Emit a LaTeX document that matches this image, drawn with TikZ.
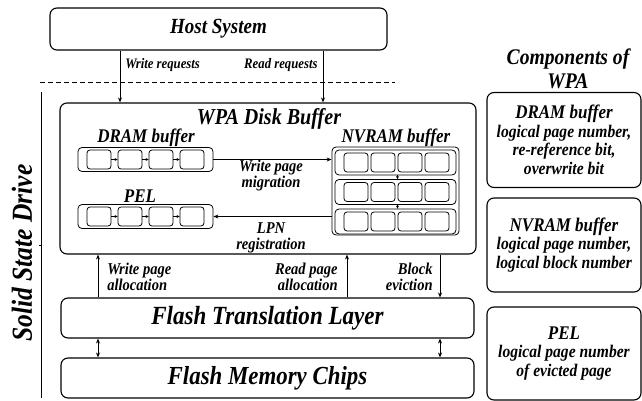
\documentclass[tikz,border=0pt]{standalone}
\usepackage{fontspec}
\setmainfont{Liberation Serif}
\newfontfamily\wpafont[FakeStretch=0.88]{Liberation Serif}
\newcommand\wfont[2]{\wpafont\fontsize{#1}{#2}\selectfont\bfseries\itshape}
\usetikzlibrary{arrows.meta,positioning}

\tikzset{
  bigbox/.style={draw,line width=1.1pt,rounded corners=7pt},
  inbox/.style={draw,line width=0.8pt,rounded corners=4pt},
  cell/.style={draw,line width=0.8pt,rounded corners=3pt,minimum width=24pt,minimum height=19pt,inner sep=0pt},
  lbl/.style={font=\wfont{16.5}{14.5},inner sep=0pt},
  lbltall/.style={font=\wfont{16.5}{16.5},inner sep=0pt},
  ttl/.style={font=\wfont{19.3}{19},inner sep=0pt},
  small/.style={-{Stealth[length=3pt,width=3pt]},line width=0.5pt},
}

\begin{document}
\begin{tikzpicture}[x=1pt,y=-1pt,>={Stealth[length=5pt,width=4pt]},line width=0.8pt]
  \useasboundingbox (0,0) rectangle (642,401);
  % host
  \node[bigbox,minimum width=337pt,minimum height=42pt,font=\wfont{21.6}{22}] (host) at (218.5,29) {Host System};
  \draw[dash pattern=on 5pt off 3pt] (40,82) -- (395,82);
  % disk buffer
  \node[bigbox,minimum width=416pt,minimum height=151pt] (wpa) at (268,178.5) {};
  \node[font=\wfont{22.8}{23},inner sep=0pt] (wpat) at (269,119) {WPA Disk Buffer};
  \coordinate (wr) at (120,0);
  \coordinate (rd) at (323,0);
  \draw[->] (host.south -| wr) -- (wpa.north -| wr);
  \draw[->] (host.south -| rd) -- (wpa.north -| rd);
  \node[font=\wfont{14.5}{14},inner sep=0pt,anchor=west] (wrl) at (125,65) {Write requests};
  \node[font=\wfont{14.5}{14},inner sep=0pt,anchor=east] (rdl) at (318,65) {Read requests};
  % dram buffer + pel
  \node[ttl] (dramt) at (146,138) {DRAM buffer};
  \node[inbox,minimum width=135pt,minimum height=24pt] (dram) at (145.5,159.5) {};
  \node[ttl] (pelt) at (140,196) {PEL};
  \node[inbox,minimum width=135pt,minimum height=24pt] (pel) at (145.5,216.5) {};
  \foreach \i in {1,...,4} {
    \node[cell] (d\i) at (68+31*\i,159.5) {};
    \node[cell] (p\i) at (68+31*\i,216.5) {};
  }
  \foreach \i/\j in {1/2,2/3,3/4} {
    \draw[small] (d\i) -- (d\j);
    \draw[small] (p\i) -- (p\j);
  }
  % nvram buffer
  \node[ttl] (nvt) at (396,138) {NVRAM buffer};
  \node[inbox,minimum width=127pt,minimum height=88pt] (nv) at (395.5,191) {};
  \foreach \r/\y in {1/162.5,2/192,3/221.5} {
    \node[inbox,minimum width=121pt,minimum height=25pt] (row\r) at (395.5,\y) {};
    \foreach \i in {1,...,4}
      \node[cell] (n\r\i) at (329+27*\i,\y) {};
  }
  \draw[small] (row1.south -| 397.5,0) -- (row2.north -| 397.5,0);
  \draw[small] (row2.south -| 397.5,0) -- (row3.north -| 397.5,0);
  \draw[->] (dram.east) -- (nv.west |- dram.east);
  \draw[->] (nv.west |- pel.east) -- (pel.east);
  \node[lbl,align=center] (migl) at (271,176) {Write page\\migration};
  \node[lbltall,align=center] (lpnl) at (271,238) {LPN\\registration};
  % ftl + flash
  \node[bigbox,minimum width=413pt,minimum height=40pt,font=\wfont{26.2}{26}] (ftl) at (267.5,318) {Flash Translation Layer};
  \node[bigbox,minimum width=413pt,minimum height=40pt,font=\wfont{26}{26}] (fmc) at (267.5,378) {Flash Memory Chips};
  \coordinate (wa) at (98,0);
  \coordinate (ra) at (347,0);
  \coordinate (be) at (440,0);
  \draw[->] (ftl.north -| wa) -- (wpa.south -| wa);
  \draw[->] (ftl.north -| ra) -- (wpa.south -| ra);
  \draw[->] (wpa.south -| be) -- (ftl.north -| be);
  \draw[<->] (ftl.south -| wa) -- (fmc.north -| wa);
  \draw[<->] (ftl.south -| be) -- (fmc.north -| be);
  \node[lbl,anchor=west,align=left] (wal) at (107,277) {Write page\\allocation};
  \node[lbl,anchor=east,align=right] (ral) at (338,277) {Read page\\allocation};
  \node[lbltall,anchor=east,align=right] (bel) at (433,277) {Block\\eviction};
  % ssd bracket
  \draw (41,92) -- (41,398);
  \draw (41,245) -- (39,245);
  \node[rotate=90,font=\wfont{29}{29},inner sep=0pt] (ssd) at (22,253) {Solid State Drive};
  % components
  \node[font=\wfont{22.3}{24},inner sep=0pt,align=center] (comp) at (568,69) {Components of\\WPA};
  \node[bigbox,minimum width=154pt,minimum height=95pt,align=center,font=\wfont{17.7}{18.5}] (c1) at (564,140)
    {{\wfont{19.3}{18.5}DRAM buffer}\\logical page number,\\re-reference bit,\\overwrite bit};
  \node[bigbox,minimum width=154pt,minimum height=94pt,align=center,font=\wfont{17.7}{18.5}] (c2) at (564,245)
    {{\wfont{19.3}{18.5}NVRAM buffer}\\logical page number,\\logical block number};
  \node[bigbox,minimum width=154pt,minimum height=93pt,align=center,font=\wfont{17.7}{18.5}] (c3) at (564,353.5)
    {{\wfont{19.3}{18.5}PEL}\\logical page number\\of evicted page};
\end{tikzpicture}
\end{document}
